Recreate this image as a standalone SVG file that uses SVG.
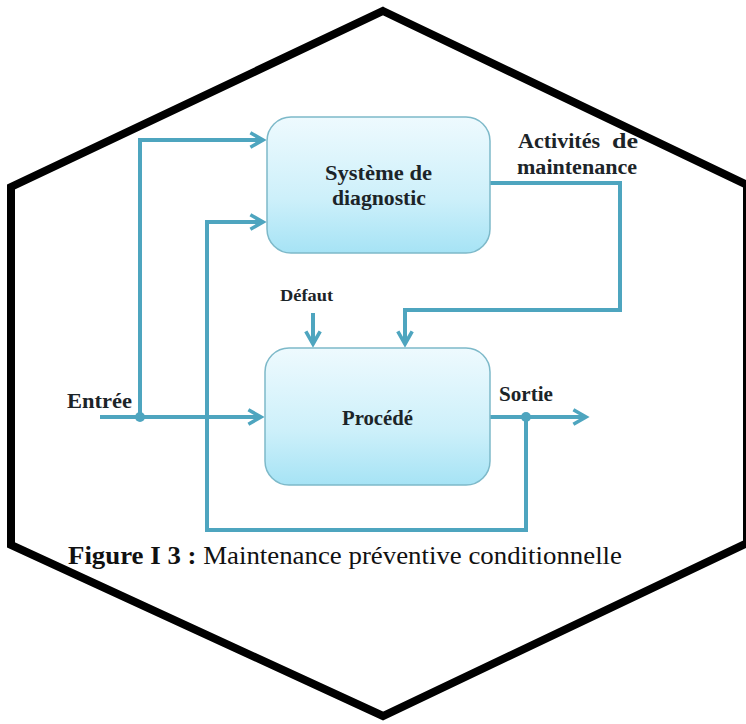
<svg xmlns="http://www.w3.org/2000/svg" width="746" height="724" viewBox="0 0 746 724">
<defs>
<linearGradient id="boxg" x1="0" y1="0" x2="0" y2="1">
<stop offset="0" stop-color="#eefafe"/>
<stop offset="0.6" stop-color="#cdf0fa"/>
<stop offset="1" stop-color="#a6e3f5"/>
</linearGradient>
<marker id="arr" viewBox="0 0 10 10" refX="8" refY="5" markerWidth="4.5" markerHeight="4.5" markerUnits="strokeWidth" orient="auto">
<path d="M1,1 L8,5 L1,9" fill="none" stroke="#4ea5bf" stroke-width="2"/>
</marker>
<style>
.box{fill:url(#boxg);stroke:#7db9c9;stroke-width:1.5}
.ln{fill:none;stroke:#4ea5bf;stroke-width:4}
.t{font-family:'Liberation Serif','Times New Roman',serif;font-weight:bold;fill:#1c2428;font-size:20px}
.dot{fill:#4ea5bf}
</style>
</defs>
<rect width="746" height="724" fill="#ffffff"/>
<polygon points="383,11 747,185 747,543 383,716 11,545 11,187" fill="none" stroke="#000" stroke-width="8" stroke-linejoin="miter"/>
<g id="connectors">
<path class="ln" d="M100,417 H261" marker-end="url(#arr)"/>
<path class="ln" d="M140,417 V140 H263" marker-end="url(#arr)"/>
<path class="ln" d="M526,417 V530 H207 V222 H263" marker-end="url(#arr)"/>
<path class="ln" d="M490,417 H586" marker-end="url(#arr)"/>
<path class="ln" d="M490,183 H620 V310 H405 V344" marker-end="url(#arr)"/>
<path class="ln" d="M313,313 V344" marker-end="url(#arr)"/>
<circle class="dot" cx="140" cy="417" r="5"/>
<circle class="dot" cx="526" cy="417" r="5"/>
</g>
<g id="diagnostic">
<rect class="box" x="267" y="117" width="223" height="136" rx="24"/>
<text class="t" x="325" y="180" textLength="107" lengthAdjust="spacingAndGlyphs">Système de</text>
<text class="t" x="332" y="205" textLength="94" lengthAdjust="spacingAndGlyphs">diagnostic</text>
</g>
<g id="procede">
<rect class="box" x="265" y="348" width="225" height="137" rx="24"/>
<text class="t" x="342" y="425" textLength="71" lengthAdjust="spacingAndGlyphs">Procédé</text>
</g>
<g id="labels">
<text class="t" x="67" y="408" textLength="65" lengthAdjust="spacingAndGlyphs">Entrée</text>
<text class="t" x="499" y="401" textLength="54" lengthAdjust="spacingAndGlyphs">Sortie</text>
<text class="t" x="280" y="301" style="font-size:17px" textLength="53" lengthAdjust="spacingAndGlyphs">Défaut</text>
<text class="t" x="518" y="148" textLength="82" lengthAdjust="spacingAndGlyphs">Activités</text>
<text class="t" x="612" y="148" textLength="26" lengthAdjust="spacingAndGlyphs">de</text>
<text class="t" x="517" y="174" textLength="120" lengthAdjust="spacingAndGlyphs">maintenance</text>
</g>
<g id="caption">
<text x="68" y="564" font-family="'Liberation Serif','Times New Roman',serif" font-size="26" fill="#111" textLength="554" lengthAdjust="spacingAndGlyphs"><tspan font-weight="bold">Figure I 3 :</tspan> Maintenance préventive conditionnelle</text>
</g>
</svg>
